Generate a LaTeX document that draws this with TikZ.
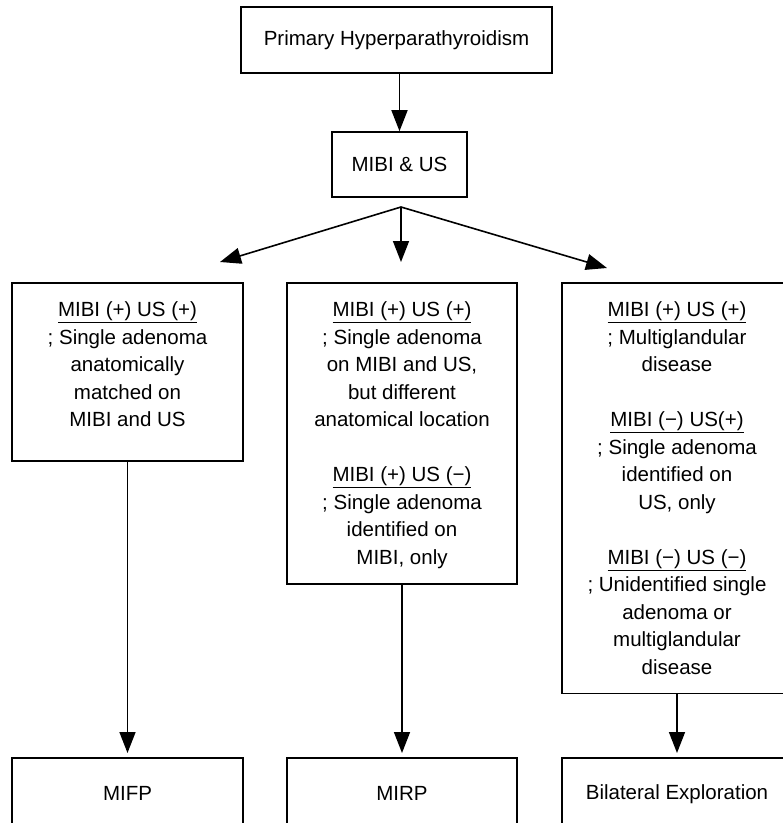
\documentclass[tikz,border=0pt]{standalone}
\usepackage{fontspec}
\setmainfont{Liberation Sans}
\usetikzlibrary{arrows.meta}

\begin{document}
\begin{tikzpicture}[x=1pt,y=-1pt,
    box/.style={draw,rectangle,line width=1.6pt,inner sep=0pt,align=center,
      font=\fontsize{20.5}{27.5}\selectfont},
    topbox/.style 2 args={box,anchor=north,inner ysep=19pt,text height=#1,text depth=#2},
    arr/.style={line width=1.6pt,-{Triangle[length=21pt,width=16pt]}}]
        \useasboundingbox (0,0) rectangle (783,823);
        \clip (0,0) rectangle (783,823);
        % Define the nodes for the top
        \node[box,minimum width=311pt,minimum height=66pt] (pphpt) at (396.5,40) {Primary Hyperparathyroidism};
        \node[box,minimum width=135pt,minimum height=65pt] (mibi)  at (399.5,164.5) {MIBI \& US};
        % Define the nodes for the findings
        \node[topbox={125pt}{15pt},minimum width=231pt] (lbox) at (127.5,282)
          {\underline{MIBI (+) US (+)}\\; Single adenoma\\anatomically\\matched on\\MIBI and US};
        \node[topbox={262.5pt}{0.5pt},minimum width=230pt] (mbox) at (402,282)
          {\underline{MIBI (+) US (+)}\\; Single adenoma\\on MIBI and US,\\but different\\anatomical location\\[27.5pt]
           \underline{MIBI (+) US (−)}\\; Single adenoma\\identified on\\MIBI, only};
        \node[topbox={372.5pt}{0pt},minimum width=230pt] (rbox) at (677,282)
          {\underline{MIBI (+) US (+)}\\; Multiglandular\\disease\\[27.5pt]
           \underline{MIBI (−) US(+)}\\; Single adenoma\\identified on\\US, only\\[27.5pt]
           \underline{MIBI (−) US (−)}\\; Unidentified single\\adenoma or\\multiglandular\\disease};
        % Define the nodes for the operations
        \node[box,anchor=north,minimum width=231pt,minimum height=72pt] (mifp)  at (127.5,757) {MIFP};
        \node[box,anchor=north,minimum width=230pt,minimum height=72pt] (mirp)  at (402,757) {MIRP};
        \node[box,anchor=north,minimum width=230pt,minimum height=72pt] (bilat) at (677,757) {Bilateral Exploration};
        % Connect the nodes
        \coordinate (fork) at (401,207);
        \coordinate (ltip) at (220,262);
        \coordinate (mtip) at (401,262);
        \coordinate (rtip) at (607,268);
        \draw[arr] (pphpt.south -| mibi.north) -- (mibi.north);
        \draw[arr] (fork) -- (ltip);
        \draw[arr] (fork) -- (mtip);
        \draw[arr] (fork) -- (rtip);
        \draw[arr,shorten >=4pt] (lbox) -- (mifp);
        \draw[arr,shorten >=4pt] (mbox) -- (mirp);
        \draw[arr,shorten >=4pt] (rbox) -- (bilat);
    \end{tikzpicture}
\end{document}
